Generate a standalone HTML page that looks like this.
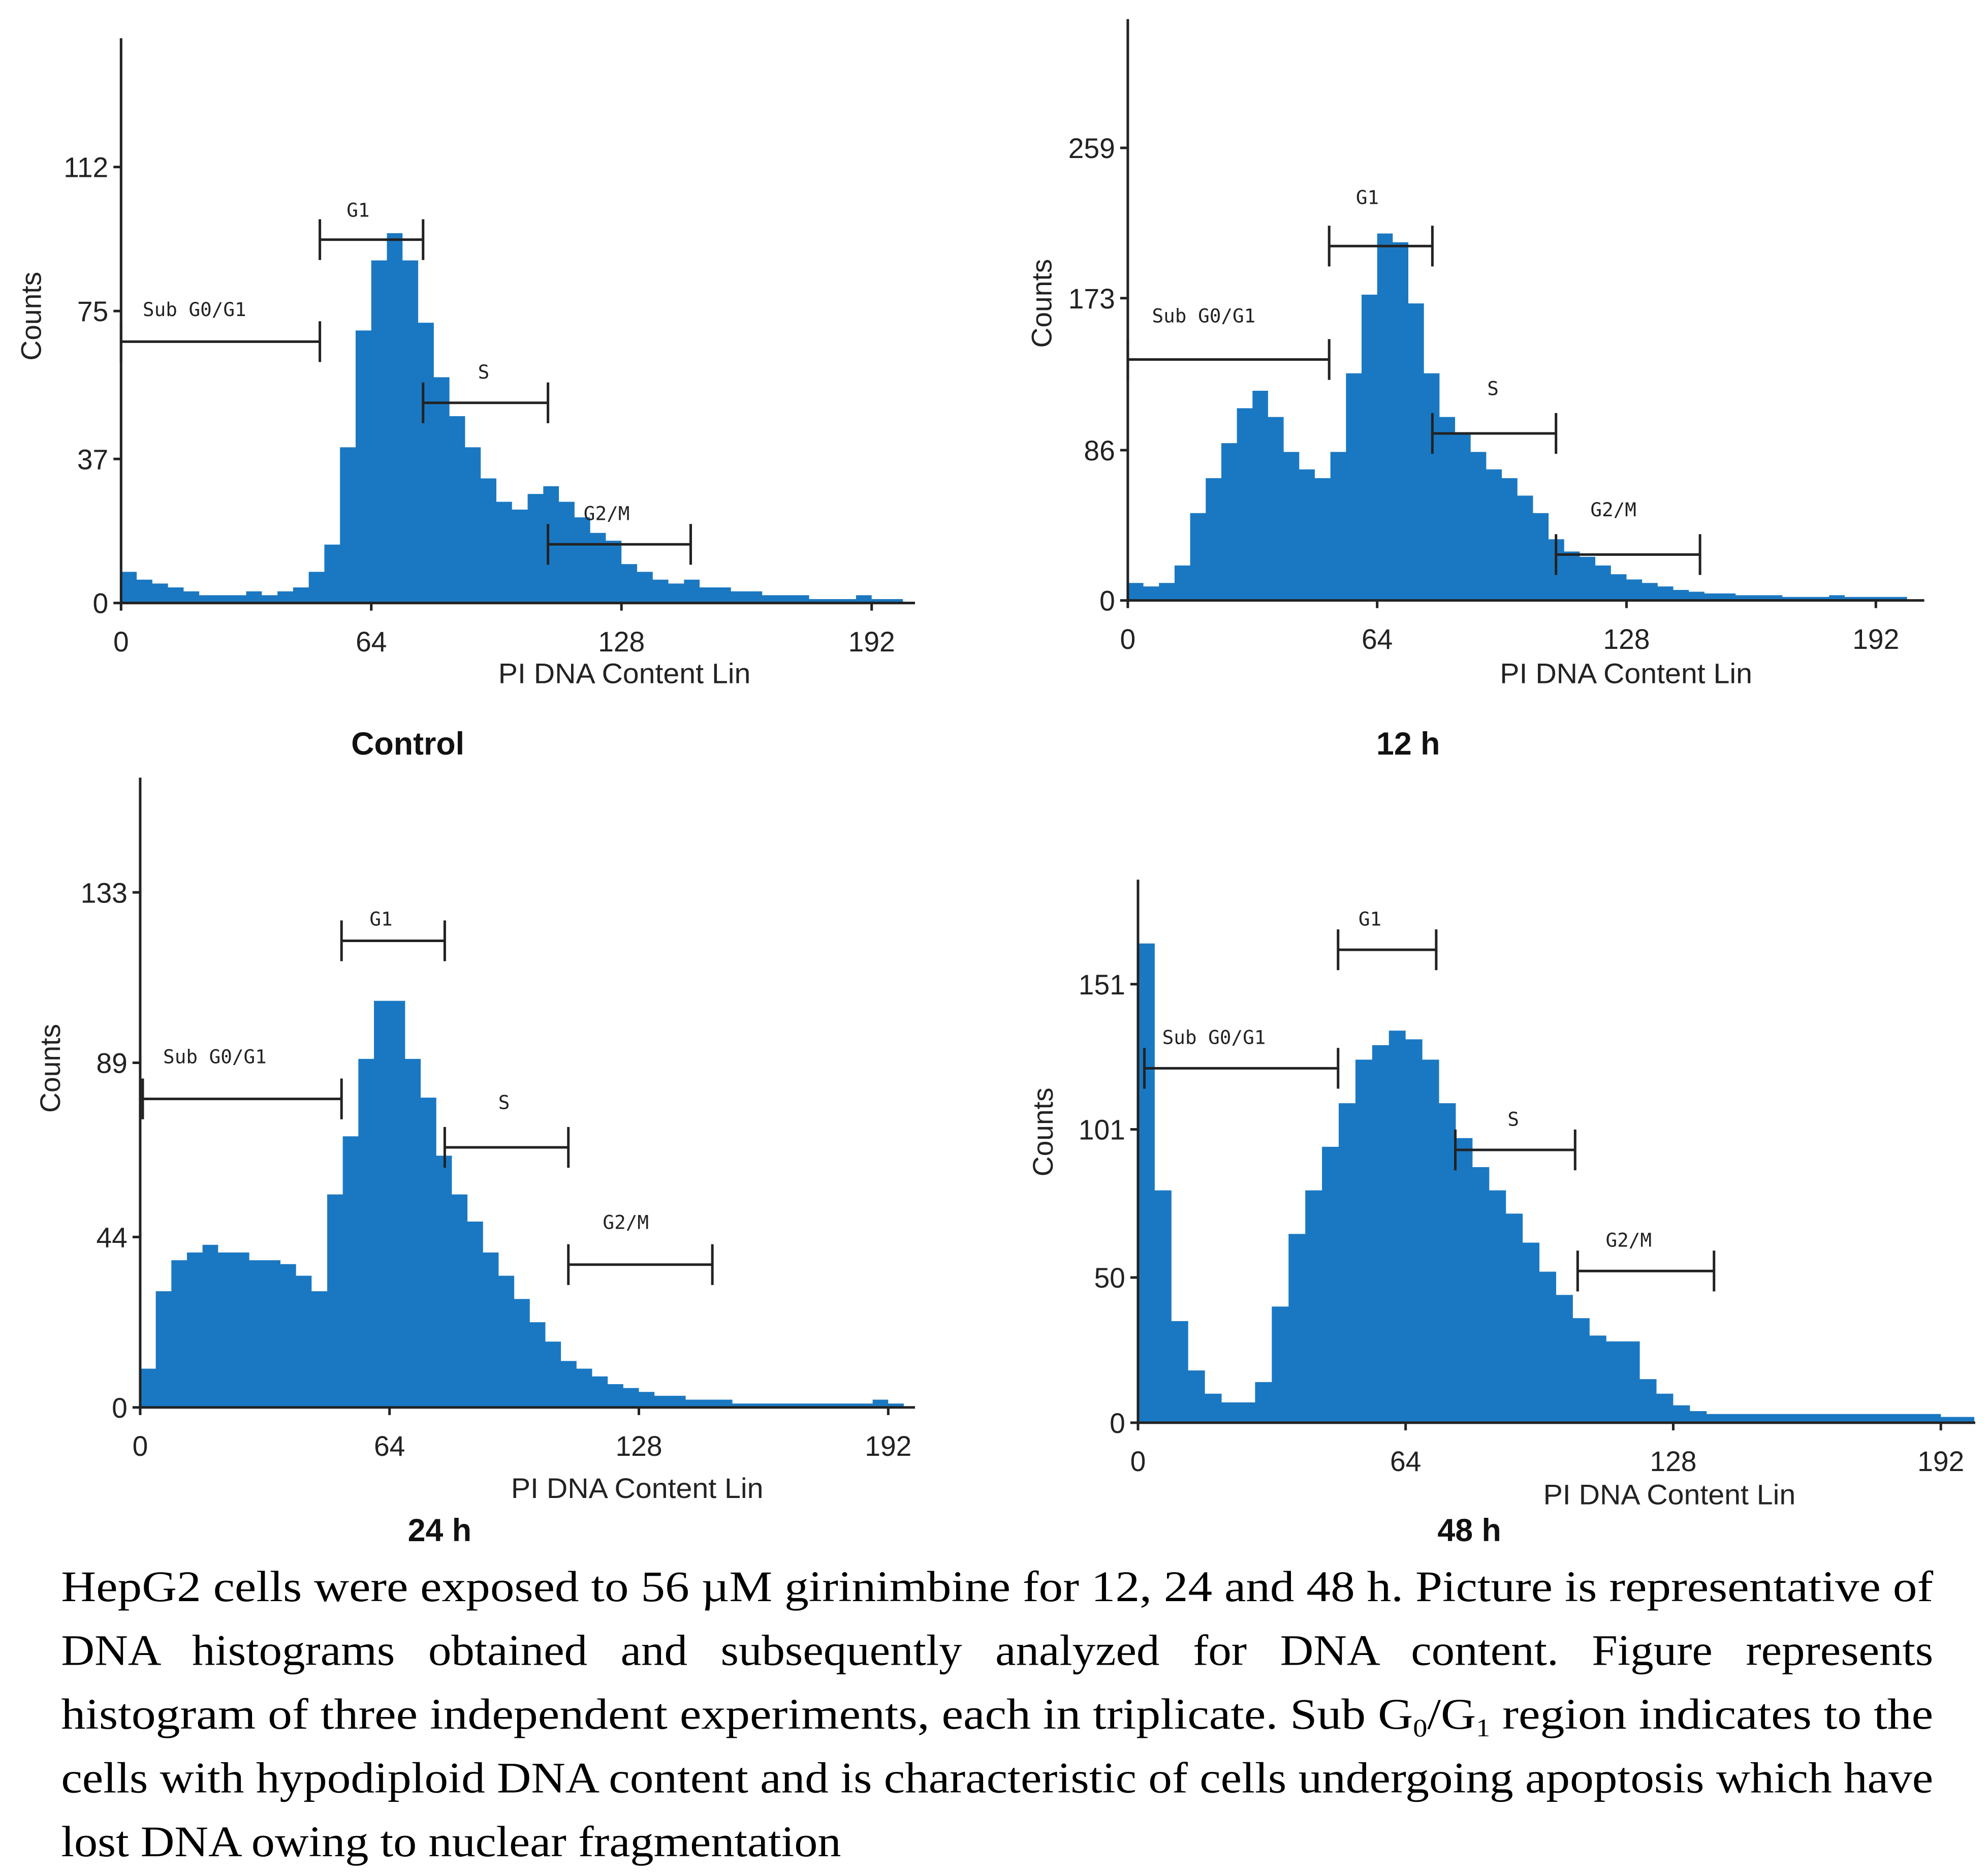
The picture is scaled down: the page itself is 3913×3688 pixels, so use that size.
<!DOCTYPE html>
<html><head><meta charset="utf-8"><style>
html,body{margin:0;padding:0;background:#fff;}
svg{display:block;}
.tk{font-family:"Liberation Sans",sans-serif;font-size:22px;fill:#222;}
.ax{font-family:"Liberation Sans",sans-serif;font-size:22px;fill:#222;}
.gl{font-family:"DejaVu Sans Mono","Liberation Mono",monospace;font-size:15px;fill:#222;}
.ti{font-family:"Liberation Sans",sans-serif;font-size:25px;font-weight:bold;fill:#111;}
.cap{font-family:"Liberation Serif",serif;font-size:34px;fill:#000;}
</style></head><body>
<svg id="fig" width="3913" height="3688" viewBox="0 0 1560 1470" preserveAspectRatio="none" xmlns="http://www.w3.org/2000/svg">
<rect width="1560" height="1470" fill="#fff"/>
<g id="panels"></g>
<g>
<text class="ti" x="320" y="592" text-anchor="middle">Control</text>
<text class="ti" x="1105" y="592" text-anchor="middle">12 h</text>
<text class="ti" x="345" y="1209" text-anchor="middle">24 h</text>
<text class="ti" x="1153" y="1209" text-anchor="middle">48 h</text>
</g>
<g>
<text class="cap" x="48" y="1256" textLength="1469" lengthAdjust="spacingAndGlyphs">HepG2 cells were exposed to 56 µM girinimbine for 12, 24 and 48 h. Picture is representative of</text>
<text class="cap" x="48" y="1306" textLength="1469" lengthAdjust="spacingAndGlyphs" word-spacing="16">DNA histograms obtained and subsequently analyzed for DNA content. Figure represents</text>
<text class="cap" x="48" y="1356" textLength="1469" lengthAdjust="spacingAndGlyphs">histogram of three independent experiments, each in triplicate. Sub G<tspan font-size="20" dy="6">0</tspan><tspan dy="-6">/G</tspan><tspan font-size="20" dy="6">1</tspan><tspan dy="-6"> region indicates to the</tspan></text>
<text class="cap" x="48" y="1406" textLength="1469" lengthAdjust="spacingAndGlyphs">cells with hypodiploid DNA content and is characteristic of cells undergoing apoptosis which have</text>
<text class="cap" x="48" y="1456" textLength="612" lengthAdjust="spacingAndGlyphs">lost DNA owing to nuclear fragmentation</text>
</g>
</svg>
<script>
const binWidth = 4;
const controlCounts = [8,6,5,4,3,2,2,2,3,2,3,4,8,15,40,70,88,95,88,72,58,48,40,32,26,24,28,30,26,22,18,16,10,8,6,5,6,4,4,3,3,2,2,2,1,1,1,2,1,1];
const h12Counts = [10,8,10,20,50,70,90,110,120,105,85,75,70,85,130,175,210,205,170,130,105,95,85,75,70,60,50,35,28,25,20,15,12,10,8,6,5,4,4,3,3,3,2,2,2,3,2,2,2,2];
const h24Counts = [10,30,38,40,42,40,40,38,38,37,34,30,55,70,90,105,105,90,80,65,55,48,40,34,28,22,17,12,10,8,6,5,4,3,3,2,2,2,1,1,1,1,1,1,1,1,1,2,1,0];
const h48Counts = [165,80,35,18,10,7,7,14,40,65,80,95,110,125,130,135,132,125,110,98,88,80,72,62,52,44,36,30,28,28,15,10,6,4,3,3,3,3,3,3,3,3,3,3,3,3,3,3,2,2];
const xTicks = [0,64,128,192];
const controlYTicks = [0,37,75,112];
const h12YTicks = [0,86,173,259];
const h24YTicks = [0,44,89,133];
const h48YTicks = [0,50,101,151];

const NS='http://www.w3.org/2000/svg';
function mk(tag, attrs, parent){const e=document.createElementNS(NS,tag);for(const k in attrs)e.setAttribute(k,attrs[k]);parent.appendChild(e);return e;}

const panels=[
 {name:'control',counts:controlCounts,yt:controlYTicks,x0:95,x192:684,right:718,y0:473,yTopVal:112,yTopPx:131,top:30,labX:490,labY:536,cntX:32,cntY:248,
  br:[[95,251,268,'Sub G0/G1',112,248],[251,332,188,'G1',272,170],[332,430,316,'S',375,297],[430,542,427,'G2/M',458,408]]},
 {name:'12h',counts:h12Counts,yt:h12YTicks,x0:885,x192:1472,right:1510,y0:471,yTopVal:259,yTopPx:116,top:15,labX:1276,labY:536,cntX:825,cntY:238,
  br:[[885,1043,282,'Sub G0/G1',904,253],[1043,1124,193,'G1',1064,160],[1124,1221,340,'S',1167,310],[1221,1334,435,'G2/M',1248,405]]},
 {name:'24h',counts:h24Counts,yt:h24YTicks,x0:110,x192:697,right:718,y0:1104,yTopVal:133,yTopPx:700,top:610,labX:500,labY:1175,cntX:47,cntY:838,
  br:[[112,268,862,'Sub G0/G1',128,834],[268,349,738,'G1',290,726],[349,446,900,'S',391,870],[446,559,992,'G2/M',473,964]]},
 {name:'48h',counts:h48Counts,yt:h48YTicks,x0:893,x192:1523,right:1550,y0:1116,yTopVal:151,yTopPx:772,top:690,labX:1310,labY:1180,cntX:826,cntY:888,
  br:[[898,1050,838,'Sub G0/G1',912,819],[1050,1127,745,'G1',1066,726],[1142,1236,902,'S',1183,883],[1238,1345,997,'G2/M',1260,978]]}
];
const root=document.getElementById('panels');
panels.forEach(p=>{
 const g=mk('g',{},root);
 
 
 const xs=v=>p.x0+(p.x192-p.x0)*v/192;
 const ys=v=>p.y0-(p.y0-p.yTopPx)*v/p.yTopVal;
 let d='M'+xs(0)+','+p.y0;
 p.counts.forEach((c,i)=>{d+=' L'+xs(i*binWidth)+','+ys(c)+' L'+xs((i+1)*binWidth)+','+ys(c);});
 d+=' L'+xs(p.counts.length*binWidth)+','+p.y0+' Z';
 const area=mk('path',{d:d,fill:'#1a78c2'},g);
 
 
 const ax=mk('path',{d:`M${p.x0},${p.top} L${p.x0},${p.y0} L${p.right},${p.y0}`,stroke:'#222','stroke-width':2,fill:'none'},g);
 
 
 p.yt.forEach(t=>{
  mk('line',{x1:p.x0-6,x2:p.x0,y1:ys(t),y2:ys(t),stroke:'#222','stroke-width':2},g);
  const tx=mk('text',{class:'tk',x:p.x0-10,y:ys(t)+8,'text-anchor':'end'},g);
  tx.textContent=t;
  
  
 });
 xTicks.forEach(t=>{
  mk('line',{x1:xs(t),x2:xs(t),y1:p.y0,y2:p.y0+6,stroke:'#222','stroke-width':2},g);
  const tx=mk('text',{class:'tk',x:xs(t),y:p.y0+38,'text-anchor':'middle'},g);
  tx.textContent=t;
  
  
 });
 const xl=mk('text',{class:'ax',x:p.labX,y:p.labY,'text-anchor':'middle',textLength:198,lengthAdjust:'spacingAndGlyphs'},g);
 xl.textContent='PI  DNA Content Lin';
 
 
 const yl=mk('text',{class:'ax',x:p.cntX,y:p.cntY,'text-anchor':'middle',transform:`rotate(-90 ${p.cntX} ${p.cntY})`},g);
 yl.textContent='Counts';
 
 
 p.br.forEach(b=>{
  const bg=mk('g',{stroke:'#222','stroke-width':2},g);
  
  
  mk('line',{x1:b[0],x2:b[1],y1:b[2],y2:b[2]},bg);
  mk('line',{x1:b[0],x2:b[0],y1:b[2]-16,y2:b[2]+16},bg);
  mk('line',{x1:b[1],x2:b[1],y1:b[2]-16,y2:b[2]+16},bg);
  const lt=mk('text',{class:'gl',x:b[4],y:b[5]},g);
  lt.textContent=b[3];
  
  
 });
});
</script>
</body></html>
